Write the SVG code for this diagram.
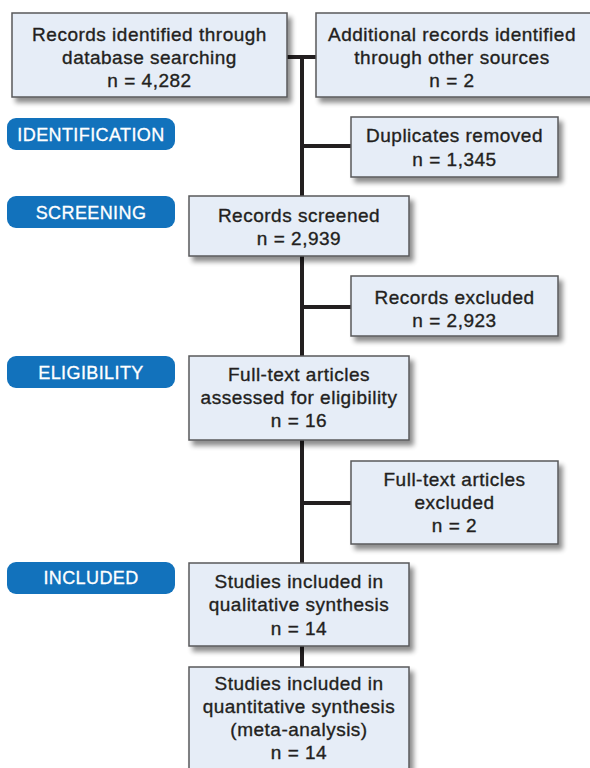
<svg xmlns="http://www.w3.org/2000/svg" width="590" height="768" viewBox="0 0 590 768">
<defs>
<filter id="sh" x="-10%" y="-10%" width="130%" height="140%">
<feGaussianBlur in="SourceAlpha" stdDeviation="2.5"/>
<feOffset dx="4" dy="5" result="b"/>
<feComponentTransfer><feFuncA type="linear" slope="0.45"/></feComponentTransfer>
<feMerge><feMergeNode/><feMergeNode in="SourceGraphic"/></feMerge>
</filter>
<style>
.box{fill:#e6edf7;stroke:#58595b;stroke-width:1.5;filter:url(#sh)}
.pill{fill:#1272bc}
.t{font-family:"Liberation Sans",Arial,sans-serif;font-size:19px;letter-spacing:0.5px;fill:#231f20;text-anchor:middle;stroke:#231f20;stroke-width:0.35}
.p{font-family:"Liberation Sans",Arial,sans-serif;font-size:18px;letter-spacing:0.4px;fill:#ffffff;text-anchor:middle;stroke:#fff;stroke-width:0.3}
.c{stroke:#231f20;stroke-width:4;fill:none}
</style>
</defs>
<rect width="590" height="768" fill="#ffffff"/>
<g id="connectors">
<line class="c" x1="302" y1="57" x2="302" y2="668"/>
<line class="c" x1="287" y1="57" x2="316" y2="57"/>
<line class="c" x1="302" y1="146" x2="351" y2="146"/>
<line class="c" x1="302" y1="307" x2="351" y2="307"/>
<line class="c" x1="302" y1="503" x2="351" y2="503"/>
</g>
<g id="pill-identification"><rect class="pill" x="7" y="118" width="168" height="32" rx="9"/><text class="p" x="91" y="141">IDENTIFICATION</text></g>
<g id="pill-screening"><rect class="pill" x="7" y="196" width="168" height="32" rx="9"/><text class="p" x="91" y="219">SCREENING</text></g>
<g id="pill-eligibility"><rect class="pill" x="7" y="356" width="168" height="32" rx="9"/><text class="p" x="91" y="379">ELIGIBILITY</text></g>
<g id="pill-included"><rect class="pill" x="7" y="562" width="168" height="32" rx="9"/><text class="p" x="91" y="584">INCLUDED</text></g>
<g id="n-db"><rect class="box" x="12" y="13" width="275" height="84"/>
<text class="t"><tspan x="149.5" y="41">Records identified through</tspan><tspan x="149.5" y="64">database searching</tspan><tspan x="149.5" y="87">n = 4,282</tspan></text></g>
<g id="n-other"><rect class="box" x="316" y="13" width="280" height="84"/>
<text class="t"><tspan x="452" y="41">Additional records identified</tspan><tspan x="452" y="64">through other sources</tspan><tspan x="452" y="87">n = 2</tspan></text></g>
<g id="n-dup"><rect class="box" x="351" y="117" width="207" height="60"/>
<text class="t"><tspan x="454.5" y="142">Duplicates removed</tspan><tspan x="454.5" y="166">n = 1,345</tspan></text></g>
<g id="n-screened"><rect class="box" x="189" y="196" width="220" height="60"/>
<text class="t"><tspan x="299" y="222">Records screened</tspan><tspan x="299" y="245">n = 2,939</tspan></text></g>
<g id="n-excluded"><rect class="box" x="351" y="276" width="207" height="60"/>
<text class="t"><tspan x="454.5" y="304">Records excluded</tspan><tspan x="454.5" y="327">n = 2,923</tspan></text></g>
<g id="n-fulltext"><rect class="box" x="189" y="356" width="220" height="84"/>
<text class="t"><tspan x="299" y="381">Full-text articles</tspan><tspan x="299" y="404">assessed for eligibility</tspan><tspan x="299" y="427">n = 16</tspan></text></g>
<g id="n-ftexcl"><rect class="box" x="351" y="461" width="207" height="83"/>
<text class="t"><tspan x="454.5" y="486">Full-text articles</tspan><tspan x="454.5" y="509">excluded</tspan><tspan x="454.5" y="532">n = 2</tspan></text></g>
<g id="n-qual"><rect class="box" x="189" y="563" width="220" height="83"/>
<text class="t"><tspan x="299" y="588">Studies included in</tspan><tspan x="299" y="611">qualitative synthesis</tspan><tspan x="299" y="635">n = 14</tspan></text></g>
<g id="n-quant"><rect class="box" x="189" y="667" width="220" height="110"/>
<text class="t"><tspan x="299" y="690">Studies included in</tspan><tspan x="299" y="713">quantitative synthesis</tspan><tspan x="299" y="736">(meta-analysis)</tspan><tspan x="299" y="759">n = 14</tspan></text></g>
</svg>
